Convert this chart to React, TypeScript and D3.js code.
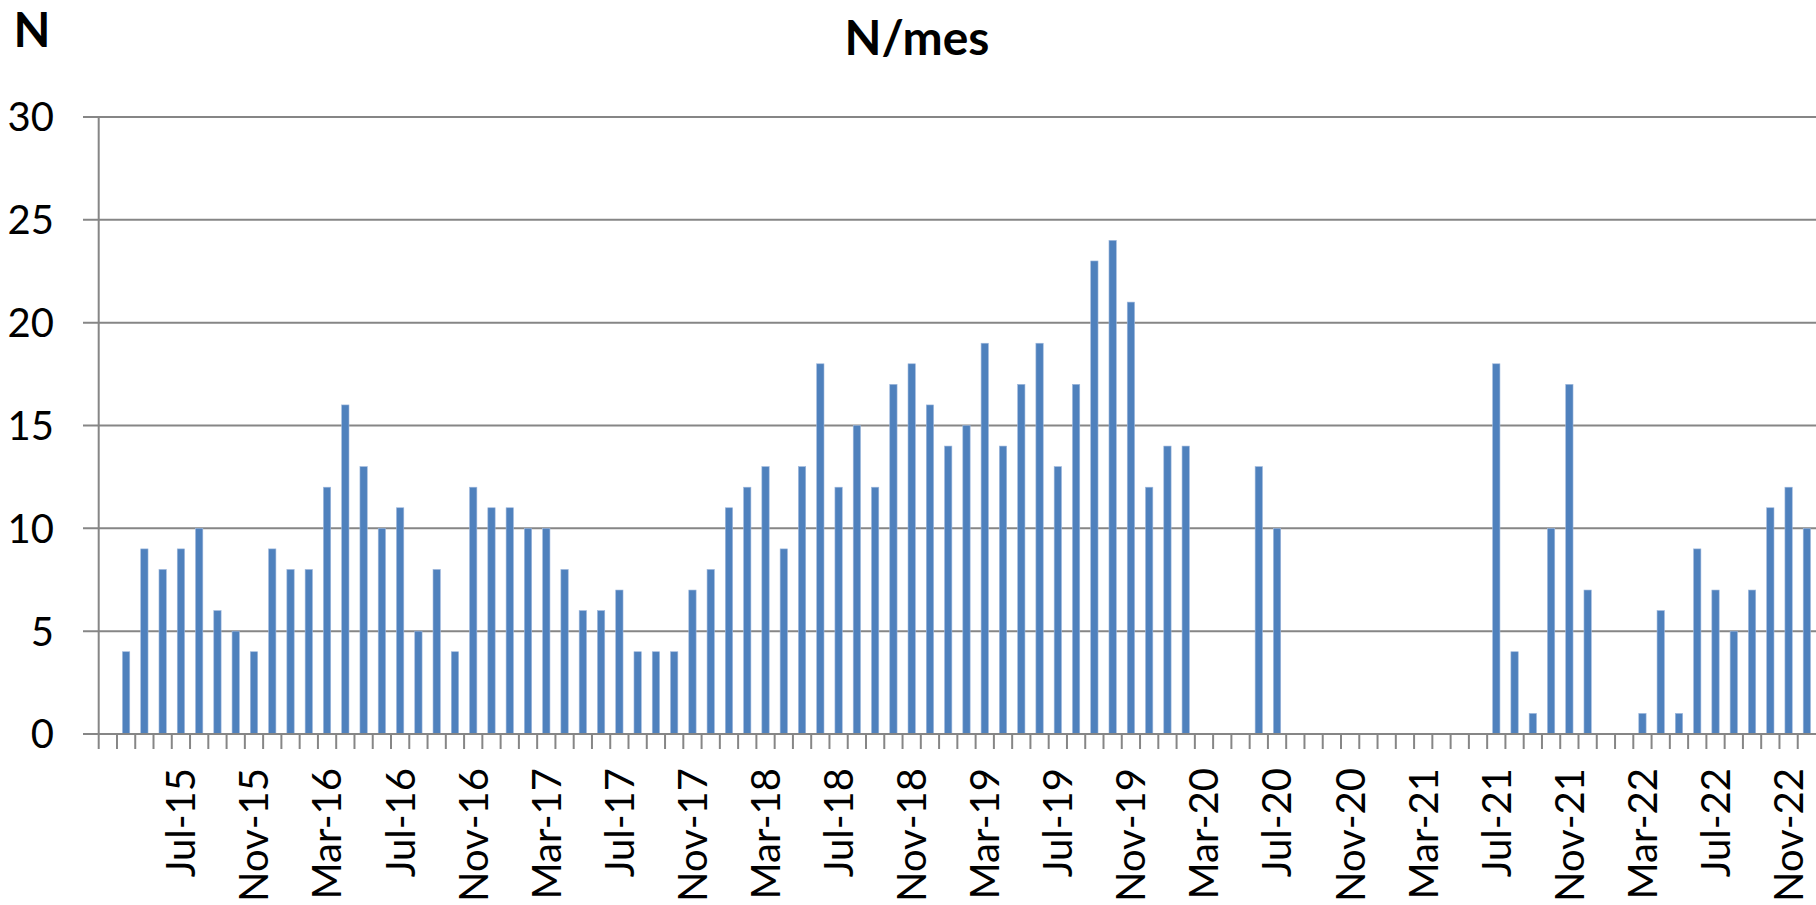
import * as d3 from 'd3';

const width = 1816;
const height = 905;

// monthly categories, Mar-15 .. Dec-22
const months = d3.timeMonth.range(new Date(2015, 2, 1), new Date(2023, 0, 1));
const fmt = d3.timeFormat('%b-%y');
const categories = months.map(d => fmt(d));

const counts = [
  0,
  4, 9, 8, 9, 10, 6, 5, 4, 9,
  8, 8, 12, 16, 13, 10, 11, 5, 8, 4, 12, 11,
  11, 10, 10, 8, 6, 6, 7, 4, 4, 4, 7, 8,
  11, 12, 13, 9, 13, 18, 12, 15, 12, 17, 18, 16,
  14, 15, 19, 14, 17, 19, 13, 17, 23, 24, 21, 12,
  14, 14, 0, 0, 0, 13, 10, 0, 0, 0, 0, 0,
  0, 0, 0, 0, 0, 0, 18, 4, 1, 10, 17, 7,
  0, 0, 1, 6, 1, 9, 7, 5, 7, 11, 12, 10
];

const tickLabels = [
  'Jul-15', 'Nov-15', 'Mar-16', 'Jul-16', 'Nov-16', 'Mar-17', 'Jul-17', 'Nov-17',
  'Mar-18', 'Jul-18', 'Nov-18', 'Mar-19', 'Jul-19', 'Nov-19', 'Mar-20', 'Jul-20',
  'Nov-20', 'Mar-21', 'Jul-21', 'Nov-21', 'Mar-22', 'Jul-22', 'Nov-22'
];

const yTicks = [0, 5, 10, 15, 20, 25, 30];

const left = 98.7;
const right = 1816;
const top = 117;
const bottom = 734;

const font = 'Lato, "Open Sans", sans-serif';
const gridColor = '#868686';

export default function App() {
  const x = d3.scaleBand<string>()
    .domain(categories)
    .range([left, right])
    .paddingInner(0.6)
    .paddingOuter(0.3);
  const step = x.step();
  const y = d3.scaleLinear().domain([0, 30]).range([bottom, top]);

  return (
    <svg
      width={width}
      height={height}
      style={{ position: 'absolute', left: 0, top: 0, background: '#fff' }}
    >
      <rect width={width} height={height} fill="#fff" />

      {/* gridlines + y ticks */}
      {yTicks.map(t => (
        <line key={t} x1={83} x2={right} y1={y(t)} y2={y(t)} stroke={gridColor} strokeWidth={2} />
      ))}
      {yTicks.map(t => (
        <text key={'l' + t} x={54} y={y(t)} dy="0.36em" textAnchor="end"
          fontFamily={font} fontSize={40} fill="#000">{t}</text>
      ))}

      {/* bars */}
      {counts.map((v, i) => v > 0 && (
        <rect key={i}
          x={x(categories[i])!}
          y={y(v)}
          width={x.bandwidth()}
          height={bottom - y(v)}
          fill="#4F81BD"
          stroke="#9db7dc"
          strokeWidth={0.6}
        />
      ))}

      {/* axes */}
      <line x1={left} x2={left} y1={top} y2={bottom} stroke={gridColor} strokeWidth={2} />
      <line x1={83} x2={right} y1={bottom} y2={bottom} stroke={gridColor} strokeWidth={2} />
      {categories.map((c, i) => {
        const xx = left + step * i;
        return <line key={'t' + c} x1={xx} x2={xx} y1={bottom} y2={bottom + 15} stroke={gridColor} strokeWidth={2} />;
      })}

      {/* x labels */}
      {tickLabels.map(lbl => {
        const cx = x(lbl)! + x.bandwidth() / 2;
        return (
          <text key={lbl}
            transform={`translate(${cx},${bottom + 34}) rotate(-90)`}
            textAnchor="end" dy="0.36em"
            fontFamily={font} fontSize={40} fill="#000">{lbl}</text>
        );
      })}

      <text x={32} y={47} textAnchor="middle" fontFamily={font} fontSize={48}
        fontWeight="bold" fill="#000">N</text>
      <text x={917} y={55} textAnchor="middle" fontFamily={font} fontSize={48}
        fontWeight="bold" fill="#000">N/mes</text>
    </svg>
  );
}
